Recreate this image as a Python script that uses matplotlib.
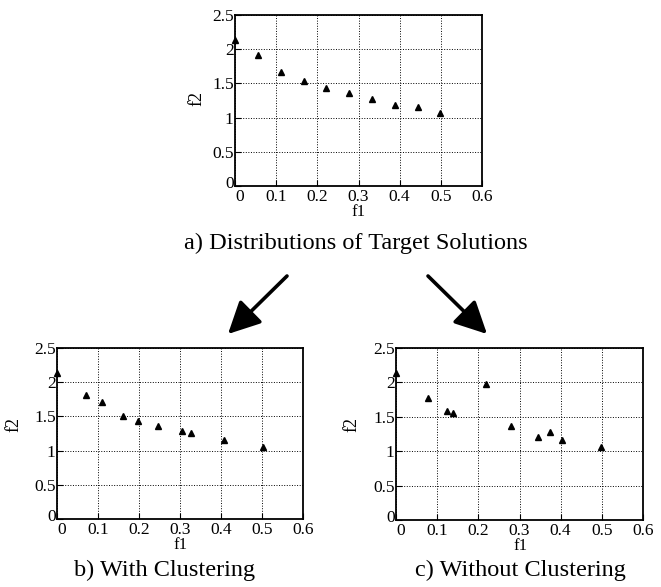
import matplotlib
matplotlib.use("Agg")
import matplotlib.pyplot as plt
from matplotlib.patches import FancyArrowPatch
from matplotlib.transforms import ScaledTranslation

plt.rcParams['font.family'] = ['Liberation Serif', 'DejaVu Serif']

# target solutions
target_f1 = [0.0, 0.057, 0.111, 0.167, 0.222, 0.277, 0.332, 0.388, 0.444, 0.499]
target_f2 = [2.14, 1.91, 1.66, 1.53, 1.44, 1.36, 1.27, 1.19, 1.16, 1.06]

# with clustering
clus_f1 = [0.0, 0.070, 0.110, 0.160, 0.198, 0.246, 0.305, 0.328, 0.407, 0.502]
clus_f2 = [2.14, 1.81, 1.71, 1.50, 1.44, 1.36, 1.28, 1.26, 1.155, 1.05]

# without clustering
noclus_f1 = [0.0, 0.077, 0.123, 0.139, 0.219, 0.279, 0.346, 0.374, 0.404, 0.499]
noclus_f2 = [2.14, 1.77, 1.59, 1.55, 1.97, 1.37, 1.20, 1.28, 1.16, 1.06]

xticks = [0, 0.1, 0.2, 0.3, 0.4, 0.5, 0.6]
xticklabels = ["0", "0.1", "0.2", "0.3", "0.4", "0.5", "0.6"]
yticks = [0, 0.5, 1, 1.5, 2, 2.5]
yticklabels = ["0", "0.5", "1", "1.5", "2", "2.5"]

W, H = 661, 587
fig = plt.figure(figsize=(W / 100, H / 100), dpi=100)


def px_axes(x0, y0, x1, y1):
    return fig.add_axes([x0 / W, 1 - y1 / H, (x1 - x0) / W, (y1 - y0) / H])


def draw_panel(ax, f1, f2):
    ax.plot(f1, f2, linestyle='none', marker='^', color='black', markersize=4, clip_on=False)
    ax.set_xlim(0, 0.6)
    ax.set_ylim(0, 2.5)
    ax.set_xticks(xticks)
    ax.set_xticklabels(xticklabels)
    ax.set_yticks(yticks)
    ax.set_yticklabels(yticklabels)
    ax.grid(True, linestyle=':', color='black', linewidth=0.7)
    ax.tick_params(direction='in', length=4, width=0.8, labelsize=12.5, colors='black')
    ax.tick_params(axis='y', pad=1)
    ax.tick_params(axis='x', pad=2)
    for s in ax.spines.values():
        s.set_linewidth(1.3)
    # corner zeros sit apart like the original
    ax.get_xticklabels()[0].set_transform(ax.get_xticklabels()[0].get_transform()
                                          + ScaledTranslation(5 / 100, 0, fig.dpi_scale_trans))
    ax.get_yticklabels()[0].set_transform(ax.get_yticklabels()[0].get_transform()
                                          + ScaledTranslation(0, 4 / 100, fig.dpi_scale_trans))


def ftext(x, y, s, size, rot=0):
    fig.text(x / W, 1 - y / H, s, ha='center', va='center', fontsize=size, rotation=rot)


ax_a = px_axes(235, 15, 482, 186)
draw_panel(ax_a, target_f1, target_f2)
ftext(358, 212, "f1", 12)
ftext(197, 99, "f2", 13, 90)
ftext(356, 243, "a) Distributions of Target Solutions", 17.5)

ax_b = px_axes(57, 348, 303, 519)
draw_panel(ax_b, clus_f1, clus_f2)
ftext(180, 545, "f1", 12)
ftext(14, 425, "f2", 13, 90)
ftext(165, 570, "b) With Clustering", 17.5)

ax_c = px_axes(396, 348, 643, 520)
draw_panel(ax_c, noclus_f1, noclus_f2)
ftext(520, 546, "f1", 12)
ftext(352, 425, "f2", 13, 90)
ftext(520, 570, "c) Without Clustering", 17.5)

for (xa, ya), (xb, yb) in [((287, 276), (228, 334)), ((428, 276), (487, 334))]:
    arr = FancyArrowPatch((xa / W, 1 - ya / H), (xb / W, 1 - yb / H), transform=fig.transFigure,
                          arrowstyle='-|>,head_length=1.4,head_width=0.7', mutation_scale=14,
                          linewidth=2.6, color='black', shrinkA=0, shrinkB=0)
    fig.add_artist(arr)

fig.savefig("out.png", dpi=100)
